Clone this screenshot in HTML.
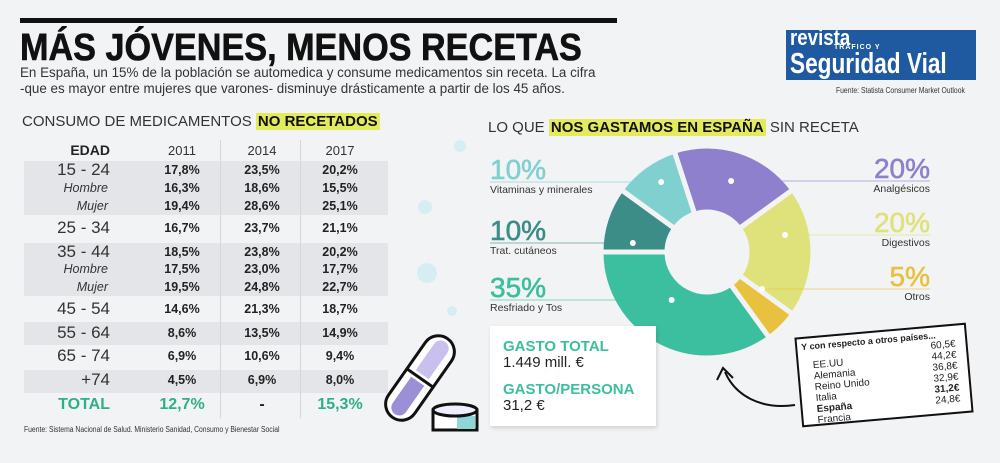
<!DOCTYPE html>
<html><head><meta charset="utf-8">
<style>
*{margin:0;padding:0;box-sizing:border-box}
body{width:1000px;height:463px;background:#f2f3f5;font-family:"Liberation Sans",sans-serif;position:relative;overflow:hidden;color:#222}
.a{position:absolute;white-space:nowrap}
.hl{background:#e3ea5c;font-weight:bold;padding:0 2px}
</style></head><body>
<div class="a" style="left:20px;top:18px;width:597px;height:5px;background:#111"></div>
<div class="a" style="left:20px;top:27px;font-size:38px;font-weight:bold;transform:scaleX(0.9);transform-origin:left;-webkit-text-stroke:0.6px #111;color:#111">MÁS JÓVENES, MENOS RECETAS</div>
<div class="a" style="left:20px;top:65px;font-size:13.4px;line-height:16px;color:#333">En España, un 15% de la población se automedica y consume medicamentos sin receta. La cifra<br>-que es mayor entre mujeres que varones- disminuye drásticamente a partir de los 45 años.</div>
<div class="a" style="left:786px;top:30px;width:190px;height:50px;background:#1f5aa0;color:#fff;font-weight:bold;overflow:hidden">
<div style="position:absolute;left:4px;top:-5px;font-size:22px;transform:scaleX(0.85);transform-origin:left">revista</div>
<div style="position:absolute;left:48px;top:14px;font-size:7px;letter-spacing:1px">TRÁFICO Y</div>
<div style="position:absolute;left:4px;top:20px;font-size:29px;line-height:28px;transform:scaleX(0.78);transform-origin:left">Seguridad Vial</div></div>
<div class="a" style="left:836px;top:86px;font-size:8px;color:#333;transform:scaleX(0.85);transform-origin:left">Fuente: Statista Consumer Market Outlook</div>

<div class="a" style="left:22px;top:113px;font-size:15px;color:#333">CONSUMO DE MEDICAMENTOS <span class="hl" style="color:#111">NO RECETADOS</span></div>
<div class="a" style="left:24px;top:161px;width:364px;height:54px;background:#e4e5e8"></div>
<div class="a" style="left:24px;top:243px;width:364px;height:53px;background:#e4e5e8"></div>
<div class="a" style="left:24px;top:322px;width:364px;height:23px;background:#e4e5e8"></div>
<div class="a" style="left:24px;top:370px;width:364px;height:23px;background:#e4e5e8"></div>
<div class="a" style="left:220px;top:140px;width:1px;height:278px;background:#d5d6d9"></div>
<div class="a" style="left:300px;top:140px;width:1px;height:278px;background:#d5d6d9"></div>
<div id="table"></div>
<div class="a" style="left:24px;top:425px;font-size:8px;color:#333;transform:scaleX(0.85);transform-origin:left">Fuente: Sistema Nacional de Salud. Ministerio Sanidad, Consumo y Bienestar Social</div>

<svg class="a" style="left:0;top:0" width="1000" height="463">
<circle cx="460" cy="146" r="6" fill="#d6eef3"/><circle cx="427" cy="273" r="10" fill="#d6eef3"/><circle cx="425" cy="207" r="7" fill="#d6eef3"/><circle cx="452" cy="311" r="5" fill="#d6eef3"/>
<g transform="translate(420,378) rotate(-55)">
<rect x="-48" y="-16" width="96" height="32" rx="16" fill="#fff" stroke="#111" stroke-width="3"/>
<path d="M-36,-8 H-4 V8 H-36 A8,8 0 0 1 -36,-8Z" fill="#9b8fd6"/>
<path d="M4,-8 H36 A8,8 0 0 1 36,8 H4Z" fill="#c9c0ee"/>
<line x1="0" y1="-16" x2="0" y2="16" stroke="#111" stroke-width="3"/>
</g>
<g>
<rect x="433" y="410" width="44" height="20" fill="#fff" stroke="#111" stroke-width="3"/>
<rect x="457" y="416" width="18" height="13" fill="#8fd6d6"/>
<ellipse cx="455" cy="410" rx="22" ry="6" fill="#eef" stroke="#111" stroke-width="3"/>
</g>
</svg>

<div class="a" style="left:488px;top:119px;font-size:15px;color:#333">LO QUE <span class="hl" style="color:#111">NOS GASTAMOS EN ESPAÑA</span> SIN RECETA</div>
<svg id="donut" class="a" style="left:0;top:0" width="1000" height="463"></svg>

<div class="a" style="left:490px;top:326px;width:166px;height:100px;background:#fff;box-shadow:1px 2px 4px rgba(0,0,0,0.15)">
<div style="position:absolute;left:13px;top:12px;font-size:15px;font-weight:bold;color:#3bbf9e">GASTO TOTAL</div>
<div style="position:absolute;left:13px;top:28px;font-size:15px">1.449 mill. €</div>
<div style="position:absolute;left:13px;top:55px;font-size:15px;font-weight:bold;color:#3bbf9e">GASTO/PERSONA</div>
<div style="position:absolute;left:13px;top:71px;font-size:15px">31,2 €</div></div>

<div class="a" style="left:798px;top:330px;width:172px;height:90px;background:#fff;border:2px solid #111;transform:rotate(-5deg);font-size:10px;line-height:11px">
<div style="position:absolute;left:4px;top:3px;font-weight:bold;font-size:9px">Y con respecto a otros países...</div>
<div style="position:absolute;left:14px;top:22px">EE.UU<br>Alemania<br>Reino Unido<br>Italia<br><b>España</b><br>Francia</div>
<div style="position:absolute;right:10px;top:13px;text-align:right">60,5€<br>44,2€<br>36,8€<br>32,9€<br><b>31,2€</b><br>24,8€</div></div>
<svg class="a" style="left:0;top:0" width="1000" height="463">
<path d="M795,405 C760,410 735,395 725,372" fill="none" stroke="#111" stroke-width="2"/>
<path d="M717,380 L723,368 L733,378" fill="none" stroke="#111" stroke-width="2"/></svg>

<script>
const ages=["15 - 24","Hombre","Mujer","25 - 34","35 - 44","Hombre","Mujer","45 - 54","55 - 64","65 - 74","+74"];
const v2011=["17,8%","16,3%","19,4%","16,7%","18,5%","17,5%","19,5%","14,6%","8,6%","6,9%","4,5%"];
const v2014=["23,5%","18,6%","28,6%","23,7%","23,8%","23,0%","24,8%","21,3%","13,5%","10,6%","6,9%"];
const v2017=["20,2%","15,5%","25,1%","21,1%","20,2%","17,7%","22,7%","18,7%","14,9%","9,4%","8,0%"];
const totals=["12,7%","-","15,3%"];
const years=["2011","2014","2017"];
const rowY=[171,189,207,229,253,270,288,310,334,357,381];
const tb=document.getElementById('table');
function div(html,style){const d=document.createElement('div');d.className='a';d.innerHTML=html;d.style.cssText=style;tb.appendChild(d);return d;}
const colX=[147,227,305];
let h=div('EDAD','left:40px;width:70px;text-align:right;top:142px;font-weight:bold;font-size:14px');


years.forEach((y,j)=>{const d=div(y,`left:${colX[j]}px;width:70px;text-align:center;top:143px;font-size:13px;color:#333`);

});
ages.forEach((a,i)=>{const sub=a==="Hombre"||a==="Mujer";
const d=div(a,`left:10px;width:${sub?98:100}px;text-align:right;top:${rowY[i]-(sub?8:11)}px;font-size:${sub?12.5:17}px;${sub?'font-style:italic;':''}color:#333`);


[v2011,v2014,v2017].forEach((arr,j)=>{const c=div(arr[i],`left:${colX[j]}px;width:70px;text-align:center;top:${rowY[i]-8}px;font-size:12.5px;font-weight:bold`);

});});
let t=div('TOTAL','left:30px;width:80px;text-align:right;top:396px;font-size:16px;font-weight:bold;color:#2fae8a');


totals.forEach((v,j)=>{const c=div(v,`left:${colX[j]}px;width:70px;text-align:center;top:396px;font-size:16px;font-weight:bold;color:${v==='-'?'#222':'#2fae8a'}`);

});

const cats=["Analgésicos","Digestivos","Otros","Resfriado y Tos","Trat. cutáneos","Vitaminas y minerales"];
const shares=[20,20,5,35,10,10];
const colors=["#8e80cc","#dfe27a","#e8c23e","#3bbf9e","#3c8c88","#80d0d0"];
const side=["r","r","r","l","l","l"];
const lineY=[181,235,289,300,243,182];
const cx=707,cy=252,R=106,r0=40,start=342;
const svg=document.getElementById('donut');const NS="http://www.w3.org/2000/svg";
function pt(a,rad){const t=(a-90)*Math.PI/180;return [cx+rad*Math.cos(t),cy+rad*Math.sin(t)];}
let acc=start;const total=shares.reduce((s,v)=>s+v,0);
shares.forEach((v,i)=>{const a0=acc,a1=acc+v/total*360;acc=a1;
const p1=pt(a0,R),p2=pt(a1,R),p3=pt(a1,r0),p4=pt(a0,r0),lg=(a1-a0)>180?1:0;
const p=document.createElementNS(NS,'path');
p.setAttribute('d',`M${p1}A${R},${R} 0 ${lg} 1 ${p2}L${p3}A${r0},${r0} 0 ${lg} 0 ${p4}Z`);
p.setAttribute('fill',colors[i]);p.setAttribute('stroke','#f2f3f5');p.setAttribute('stroke-width','5');


svg.appendChild(p);
const m=pt((a0+a1)/2,(R+r0)/2+5);
const lx=side[i]==='l'?490:930;const ly=lineY[i];
const ln=document.createElementNS(NS,'line');
ln.setAttribute('x1',lx);ln.setAttribute('y1',ly);ln.setAttribute('x2',m[0]);ln.setAttribute('y2',ly);
ln.setAttribute('stroke',colors[i]);ln.setAttribute('stroke-opacity','0.6');


svg.appendChild(ln);
const dot=document.createElementNS(NS,'circle');dot.setAttribute('cx',m[0]);dot.setAttribute('cy',ly);dot.setAttribute('r',3);dot.setAttribute('fill','#fff');


svg.appendChild(dot);
const anc=side[i]==='l'?'start':'end';
const tp=document.createElementNS(NS,'text');tp.setAttribute('x',lx);tp.setAttribute('y',ly-3);tp.setAttribute('text-anchor',anc);
tp.setAttribute('font-size','28');tp.setAttribute('fill',colors[i]);tp.setAttribute('stroke',colors[i]);tp.setAttribute('stroke-width','0.6');tp.setAttribute('font-family','Liberation Sans, sans-serif');tp.textContent=v+'%';


svg.appendChild(tp);
const tl=document.createElementNS(NS,'text');tl.setAttribute('x',lx);tl.setAttribute('y',ly+11);tl.setAttribute('text-anchor',anc);
tl.setAttribute('font-size','10.5');tl.setAttribute('fill','#333');tl.setAttribute('font-family','Liberation Sans, sans-serif');tl.textContent=cats[i];


svg.appendChild(tl);
});
</script>
</body></html>
